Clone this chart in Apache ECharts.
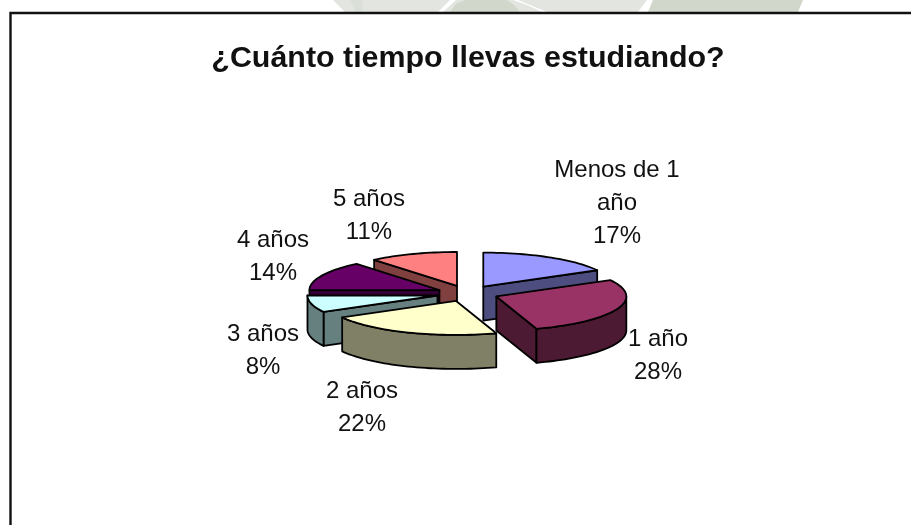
<!DOCTYPE html>
<html>
<head>
<meta charset="utf-8">
<style>html,body{margin:0;padding:0;background:#fff}#c{width:911px;height:525px}</style>
<script src="https://cdn.jsdelivr.net/npm/echarts@6/dist/echarts.min.js"></script>
</head>
<body>
<div id="c"></div>
<script>
const categories = ['Menos de 1 año', '1 año', '2 años', '3 años', '4 años', '5 años'];
const labelLines = [['Menos de 1', 'año'], ['1 año'], ['2 años'], ['3 años'], ['4 años'], ['5 años']];
const percentValues = [17, 28, 22, 8, 14, 11];
const topColors = ['#9999ff', '#993366', '#ffffcc', '#ccffff', '#660066', '#ff8080'];
const sideColors = ['#4d4d80', '#4d1a33', '#808066', '#668080', '#330033', '#804040'];
const drawRank = [3, 5, 4, 2, 1, 0];
const labelCenters = [[617, 203], [658, 356], [362, 408], [263, 351], [273, 257], [369, 216]];

const PIE = { cx: 467.5, cy: 293.5, rx: 130, ry: 34, depth: 34, explodeX: 31, explodeY: 8 };
const total = percentValues.reduce((a, b) => a + b, 0);
const startAngles = [];
percentValues.reduce((acc, v, i) => { startAngles[i] = acc; return acc + v / total * 360; }, 0);

const rad = d => d * Math.PI / 180;

function renderSlice(params, api) {
  const i = params.dataIndex;
  const value = api.value(1);
  const a0 = startAngles[i];
  const a1 = a0 + value / total * 360;
  const mid = rad((a0 + a1) / 2);
  const ax = PIE.cx + Math.sin(mid) * PIE.explodeX;
  const ay = PIE.cy - Math.cos(mid) * PIE.explodeY;
  const rim = d => [ax + Math.sin(rad(d)) * PIE.rx, ay - Math.cos(rad(d)) * PIE.ry];
  const down = p => [p[0], p[1] + PIE.depth];
  const arc = (from, to) => {
    const pts = [];
    const n = Math.max(2, Math.ceil((to - from) / 2));
    for (let k = 0; k <= n; k++) pts.push(rim(from + (to - from) * k / n));
    return pts;
  };
  const style = fill => ({ fill, stroke: '#000', lineWidth: 1.8, lineJoin: 'round' });
  const z2 = drawRank[i] * 10;
  const children = [];
  const cut = d => {
    const r = rim(d);
    children.push({
      type: 'polygon', z2,
      shape: { points: [[ax, ay], r, down(r), [ax, ay + PIE.depth]] },
      style: style(sideColors[i])
    });
  };
  if (Math.sin(rad(a1)) > 0.01) cut(a1);
  if (-Math.sin(rad(a0)) > 0.01) cut(a0);
  const w0 = Math.max(a0, 90), w1 = Math.min(a1, 270);
  if (w1 > w0) {
    const top = arc(w0, w1);
    children.push({
      type: 'polygon', z2: z2 + 1,
      shape: { points: top.concat(top.slice().reverse().map(down)) },
      style: style(sideColors[i])
    });
  }
  children.push({
    type: 'polygon', z2: z2 + 2,
    shape: { points: [[ax, ay]].concat(arc(a0, a1)) },
    style: style(topColors[i])
  });
  const lines = labelLines[i].concat([value + '%']);
  children.push({
    type: 'text', z2: 100,
    style: {
      x: labelCenters[i][0], y: labelCenters[i][1],
      text: lines.join('\n'),
      fill: '#111', align: 'center', verticalAlign: 'middle',
      font: '24px "Liberation Sans", Arial, sans-serif', lineHeight: 33
    }
  });
  return { type: 'group', children };
}

const wm = (pts, fill) => ({ type: 'polygon', silent: true, z: 0, shape: { points: pts }, style: { fill } });

const chart = echarts.init(document.getElementById('c'), null, { renderer: 'canvas' });
chart.setOption({
  animation: false,
  backgroundColor: '#fff',
  title: {
    text: '¿Cuánto tiempo llevas estudiando?',
    left: 463, top: 39, textAlign: 'center',
    textStyle: { fontFamily: '"Liberation Sans", Arial, sans-serif', fontWeight: 'bold', fontSize: 30.4, color: '#111' }
  },
  graphic: { elements: [
    wm([[333, 0], [345, 12], [638, 12], [647, 0]], '#e3e5e1'),
    wm([[350, 0], [356, 12], [362, 12], [363, 0]], '#dadfd7'),
    wm([[438, 12], [443, 12], [456, 0], [450, 0]], '#ffffff'),
    wm([[450, 12], [456, 4], [465, 0], [507, 0], [515, 6], [520, 12]], '#d2d7cc'),
    wm([[513, 0], [518, 0], [530, 5], [547, 12], [542, 12], [527, 5]], '#ffffff'),
    wm([[653, 0], [648, 12], [798, 12], [803, 0]], '#d2d7cc'),
    { type: 'polyline', silent: true, z: 1, shape: { points: [[10.5, 525], [10.5, 13], [911, 13]] },
      style: { stroke: '#111', lineWidth: 2.4, fill: 'none' } }
  ] },
  series: [{
    type: 'custom',
    coordinateSystem: 'none',
    renderItem: renderSlice,
    data: categories.map((c, i) => [c, percentValues[i]]),
    encode: { itemName: 0, value: 1 },
    silent: true
  }]
});
</script>
</body>
</html>
